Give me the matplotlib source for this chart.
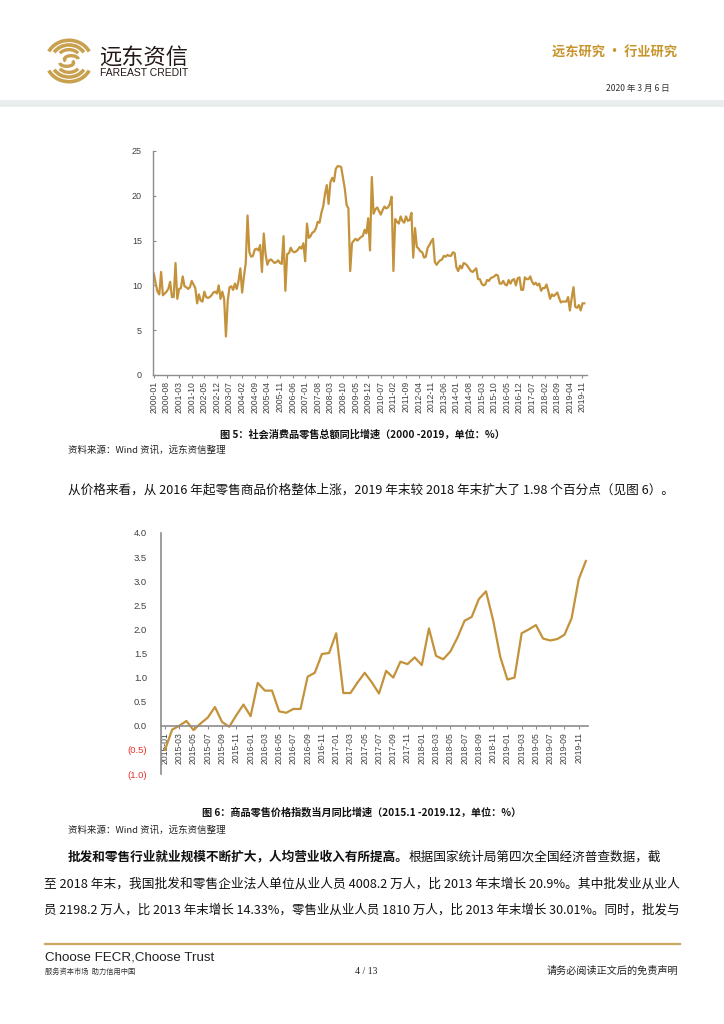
import numpy as np
import pandas as pd
import matplotlib
matplotlib.use("Agg")
import matplotlib.pyplot as plt
from matplotlib.patches import Arc, Rectangle

plt.rcParams['font.family'] = ['Noto Sans CJK SC', 'DejaVu Sans']

# ---- data: chart 1, retail sales yoy growth, monthly 2000-01 .. 2019-12 (%)
y2000 = [11.3, 10.2, 9.3, 9.0, 11.5, 8.9, 9.1, 9.3, 9.6, 10.4, 8.7, 8.7]
y2001 = [12.5, 8.5, 9.6, 9.7, 11.0, 9.9, 9.8, 9.6, 9.8, 10.5, 10.1, 9.7]
y2002 = [8.0, 9.0, 8.3, 8.2, 9.3, 8.7, 8.6, 8.7, 8.9, 9.2, 9.3, 9.1]
y2003 = [10.0, 8.5, 9.3, 8.5, 4.3, 8.3, 9.8, 9.9, 9.5, 10.2, 9.6, 10.5]
y2004 = [11.9, 9.2, 11.0, 12.5, 17.8, 13.7, 13.2, 13.3, 14.0, 14.1, 13.9, 14.5]
y2005 = [11.5, 15.8, 13.5, 12.3, 12.8, 12.9, 12.7, 12.5, 12.6, 12.8, 12.5, 12.4]
y2006 = [15.5, 9.4, 13.5, 13.6, 14.2, 13.8, 13.7, 13.8, 14.0, 14.3, 14.1, 14.7]
y2007 = [12.7, 16.9, 15.3, 15.5, 15.9, 16.0, 16.4, 17.1, 17.0, 18.1, 18.8, 20.2]
y2008 = [21.2, 19.1, 21.5, 22.0, 21.6, 23.0, 23.3, 23.3, 23.2, 22.0, 20.8, 19.0]
y2009 = [18.6, 11.6, 14.7, 15.0, 15.2, 15.0, 15.2, 15.4, 15.5, 16.2, 15.8, 17.5]
y2010 = [13.9, 22.1, 18.0, 18.5, 18.7, 18.3, 17.9, 18.4, 18.8, 18.6, 18.7, 19.1]
y2011 = [19.9, 11.6, 17.4, 17.1, 16.9, 17.7, 17.2, 17.0, 17.7, 17.2, 17.3, 18.1]
y2012 = [13.1, 16.4, 14.3, 14.1, 13.8, 13.7, 13.1, 13.2, 14.2, 14.5, 14.9, 15.2]
y2013 = [12.6, 12.3, 12.6, 12.8, 12.9, 13.3, 13.2, 13.4, 13.3, 13.3, 13.7, 13.6]
y2014 = [12.0, 11.6, 12.2, 11.9, 12.5, 12.4, 12.2, 11.9, 11.6, 11.5, 11.7, 11.9]
y2015 = [10.7, 10.7, 10.2, 10.0, 10.1, 10.6, 10.5, 10.8, 10.9, 11.0, 11.2, 11.1]
y2016 = [10.2, 10.2, 10.5, 10.1, 10.0, 10.6, 10.2, 10.6, 10.7, 10.0, 10.8, 10.9]
y2017 = [9.5, 9.5, 10.9, 10.7, 10.7, 11.0, 10.4, 10.1, 10.3, 10.0, 10.2, 9.4]
y2018 = [9.7, 9.7, 10.1, 9.4, 8.5, 9.0, 8.8, 9.0, 9.2, 8.6, 8.1, 8.2]
y2019 = [8.2, 8.2, 8.7, 7.2, 8.6, 9.8, 7.6, 7.5, 7.8, 7.2, 8.0, 8.0]
retail_growth = (y2000 + y2001 + y2002 + y2003 + y2004 + y2005 + y2006 + y2007
                 + y2008 + y2009 + y2010 + y2011 + y2012 + y2013 + y2014
                 + y2015 + y2016 + y2017 + y2018 + y2019)
months1 = pd.date_range("2000-01", periods=len(retail_growth), freq="MS")

# ---- data: chart 2, retail price index yoy, monthly 2015-01 .. 2019-12 (%)
price_growth = [-0.50, -0.08, 0.00, 0.10, -0.09, 0.05, 0.17, 0.39, 0.08, -0.02, 0.22, 0.44,
                0.20, 0.89, 0.73, 0.73, 0.30, 0.27, 0.35, 0.35, 1.02, 1.10, 1.49, 1.51,
                1.92, 0.68, 0.68, 0.90, 1.10, 0.90, 0.67, 1.14, 1.00, 1.33, 1.28, 1.42,
                1.26, 2.02, 1.45, 1.38, 1.54, 1.83, 2.18, 2.26, 2.63, 2.79, 2.19, 1.43,
                0.96, 1.00, 1.92, 2.00, 2.09, 1.81, 1.77, 1.80, 1.89, 2.23, 3.04, 3.42]
months2 = pd.date_range("2015-01", periods=len(price_growth), freq="MS")

GOLD = "#C3923B"
GRAY_TXT = "#404040"
W, H = 724, 1024

fig = plt.figure(figsize=(7.24, 10.24), dpi=100)


def fx(x):
    return x / W


def fy(y):
    return 1 - y / H


def txt(x, y, s, size, **kw):
    kw.setdefault("va", "center")
    return fig.text(fx(x), fy(y), s, fontsize=size, **kw)


# ---- header
logo = fig.add_axes([fx(44), fy(84), fx(50), 46 / H])
logo.set_xlim(-1.1, 1.1)
logo.set_ylim(-1.0, 1.0)
logo.axis("off")
for r, lw, a0, a1 in [(2.0, 2.6, 25, 155), (1.55, 2.6, 30, 150), (1.1, 2.4, 40, 140)]:
    logo.add_patch(Arc((0, 0), r, r * 0.9, theta1=a0, theta2=a1, color="#C9A04E", lw=lw))
    logo.add_patch(Arc((0, 0), r, r * 0.9, theta1=a0 + 180, theta2=a1 + 180, color="#C9A04E", lw=lw))
logo.add_patch(Arc((0.1, 0.08), 0.6, 0.3, theta1=0, theta2=200, color="#C9A04E", lw=2.4))
logo.add_patch(Arc((-0.1, -0.08), 0.6, 0.3, theta1=180, theta2=380, color="#C9A04E", lw=2.4))

txt(99, 57, "远东资信", 16, color="#231815")
txt(100, 73, "FAREAST CREDIT", 7.5, color="#231815", family=["Liberation Sans", "DejaVu Sans"])
txt(677, 52, "远东研究 • 行业研究", 9.5, color="#C8952D", ha="right", weight="bold")
txt(670, 88, "2020 年 3 月 6 日", 6.2, color="#333333", ha="right")
fig.add_artist(Rectangle((0, fy(107)), 1, 7 / H, transform=fig.transFigure,
                         color="#E9EDED", lw=0))

# ---- chart 1
ax1 = fig.add_axes([fx(153), fy(375), fx(587 - 153), (375 - 151) / H])
x1 = np.arange(len(retail_growth))
ax1.plot(x1, retail_growth, color=GOLD, lw=1.6, solid_joinstyle="round")
ax1.set_xlim(-0.5, len(retail_growth) + 0.5)
ax1.set_ylim(0, 25)
ax1.set_yticks(range(0, 26, 5))
tick_idx = x1[::7]
ax1.set_xticks(tick_idx)
ax1.set_xticklabels([months1[i].strftime("%Y-%m") for i in tick_idx], rotation=90)
for s in ["top", "right"]:
    ax1.spines[s].set_visible(False)
for s in ["left", "bottom"]:
    ax1.spines[s].set_color("#8C8C8C")
    ax1.spines[s].set_linewidth(1.0)
ax1.tick_params(axis="y", direction="in", length=2.5, color="#8C8C8C",
                labelsize=6.5, labelcolor=GRAY_TXT, pad=8)
ax1.tick_params(axis="x", direction="out", length=2.5, color="#8C8C8C",
                labelsize=6.2, labelcolor=GRAY_TXT, pad=2)
for lab in ax1.get_xticklabels() + ax1.get_yticklabels():
    lab.set_family(["Liberation Sans", "DejaVu Sans"])

txt(362, 434, "图 5：社会消费品零售总额同比增速（2000 -2019，单位：%）", 7.3,
    ha="center", weight="bold", color="#111111")
txt(68, 450, "资料来源：Wind 资讯，远东资信整理", 6.8, color="#222222")
txt(68, 490, "从价格来看，从 2016 年起零售商品价格整体上涨，2019 年末较 2018 年末扩大了 1.98 个百分点（见图 6）。",
    9.1, color="#111111")

# ---- chart 2
ax2 = fig.add_axes([fx(161), fy(774), fx(588 - 161), (774 - 533) / H])
x2 = np.arange(len(price_growth))
ax2.plot(x2, price_growth, color=GOLD, lw=1.6, solid_joinstyle="round")
ax2.set_xlim(-0.56, 59.3)
ax2.set_ylim(-1.0, 4.0)
yt = np.arange(-1.0, 4.01, 0.5)
ax2.set_yticks(yt)
ax2.set_yticklabels([f"({abs(v):.1f})" if v < 0 else f"{v:.1f}" for v in yt])
for lab, v in zip(ax2.get_yticklabels(), yt):
    lab.set_color("#E8302A" if v < 0 else GRAY_TXT)
ax2.spines["bottom"].set_position(("data", 0))
for s in ["top", "right"]:
    ax2.spines[s].set_visible(False)
for s in ["left", "bottom"]:
    ax2.spines[s].set_color("#8C8C8C")
    ax2.spines[s].set_linewidth(1.2)
tick2 = x2[::2]
ax2.set_xticks(tick2)
ax2.set_xticklabels([months2[i].strftime("%Y-%m") for i in tick2], rotation=90)
ax2.tick_params(axis="y", length=0, labelsize=6.8, pad=10)
ax2.tick_params(axis="x", direction="out", length=2.5, color="#8C8C8C",
                labelsize=6.2, labelcolor=GRAY_TXT, pad=2)
for lab in ax2.get_xticklabels() + ax2.get_yticklabels():
    lab.set_family(["Liberation Sans", "DejaVu Sans"])

txt(362, 812, "图 6：商品零售价格指数当月同比增速（2015.1 -2019.12，单位：%）", 7.3,
    ha="center", weight="bold", color="#111111")
txt(68, 830, "资料来源：Wind 资讯，远东资信整理", 6.8, color="#222222")

# ---- paragraph
fig.canvas.draw()
renderer = fig.canvas.get_renderer()
bold_part = txt(68, 857, "批发和零售行业就业规模不断扩大，人均营业收入有所提高。", 9.1,
                weight="bold", color="#111111")
bb = bold_part.get_window_extent(renderer)
txt(bb.x1, 857, "根据国家统计局第四次全国经济普查数据，截", 9.1, color="#111111")
txt(44, 884, "至 2018 年末，我国批发和零售企业法人单位从业人员 4008.2 万人，比 2013 年末增长 20.9%。其中批发业从业人",
    9.15, color="#111111")
txt(44, 910, "员 2198.2 万人，比 2013 年末增长 14.33%，零售业从业人员 1810 万人，比 2013 年末增长 30.01%。同时，批发与",
    9.0, color="#111111")

# ---- footer
fig.add_artist(plt.Line2D([fx(45), fx(680)], [fy(944), fy(944)], transform=fig.transFigure,
                          color="#C9A863", lw=1.6))
txt(45, 957, "Choose FECR,Choose Trust", 9.6, color="#222222",
    family=["Liberation Sans", "DejaVu Sans"])
txt(45, 972, "服务资本市场  助力信用中国", 5.2, color="#333333")
txt(366, 971, "4 / 13", 7, ha="center", color="#222222",
    family=["Liberation Serif", "DejaVu Serif"])
txt(678, 971, "请务必阅读正文后的免责声明", 7.3, ha="right", color="#222222")

fig.savefig("out.png", dpi=100)
